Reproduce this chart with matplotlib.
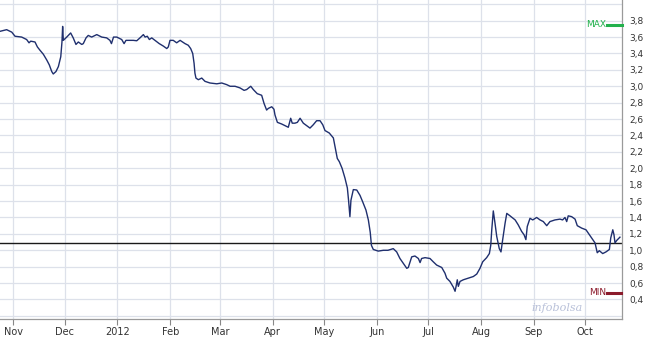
import matplotlib
matplotlib.use("Agg")
import matplotlib.pyplot as plt
import matplotlib.dates as mdates
import matplotlib.transforms as mtransforms
import numpy as np
from datetime import datetime

# days since 2011-11-01, and the share price (EUR)
days = [-7.8, -3.9, -0.9, 1.0, 4.9, 7.8, 9.2, 10.2, 12.7, 14.1, 15.6, 17.6, 19.6, 21.1,
        22.5, 23.4, 25.0, 26.4, 27.8, 28.5, 28.9, 29.3, 31.3, 33.6, 35.1, 36.7, 38.1,
        40.1, 41.0, 42.6, 43.9, 45.9, 48.9, 51.8, 54.7, 56.6, 57.5, 58.7, 60.6, 63.5,
        64.9, 66.0, 68.4, 70.3, 72.3, 74.2, 76.2, 77.2, 78.5, 79.7, 81.1, 83.0, 85.5,
        87.9, 89.9, 90.8, 91.8, 93.7, 95.7, 97.7, 99.2, 100.6, 102.5, 103.9, 105.1,
        105.9, 106.4, 107.0, 108.4, 110.4, 112.3, 115.2, 119.2, 122.1, 125.0, 127.0,
        129.9, 132.8, 135.2, 136.7, 139.1, 140.6, 142.9, 145.5, 146.9, 148.4, 149.4,
        151.4, 152.7, 153.3, 154.7, 157.2, 160.2, 161.1, 162.5, 163.4, 165.0, 166.4,
        168.0, 169.9, 171.9, 173.8, 175.7, 177.7, 179.7, 181.3, 182.6, 185.1, 187.5,
        188.5, 189.8, 191.0, 192.6, 194.3, 195.7, 196.4, 197.2, 197.8, 199.2, 201.2,
        203.1, 204.7, 206.6, 208.0, 209.1, 209.8, 210.9, 213.8, 216.8, 219.5, 222.6,
        224.6, 226.5, 228.5, 230.5, 231.4, 233.4, 235.3, 237.3, 238.3, 239.2, 241.2,
        244.1, 246.0, 248.0, 251.0, 252.9, 253.9, 255.8, 257.8, 258.8, 259.4, 260.1,
        260.7, 261.7, 263.6, 266.6, 269.5, 271.5, 273.4, 275.0, 277.3, 278.9, 279.7,
        280.3, 281.2, 282.2, 283.2, 284.7, 285.7, 286.7, 288.1, 289.1, 291.0, 294.0,
        295.8, 297.8, 299.2, 300.3, 301.1, 302.7, 304.3, 306.6, 308.6, 310.5, 312.5,
        314.4, 317.3, 320.3, 321.8, 323.2, 324.2, 325.1, 327.1, 329.1, 330.4, 333.0,
        335.5, 337.5, 339.5, 340.8, 342.1, 343.3, 345.3, 347.2, 349.2, 350.0, 351.2,
        351.9, 352.5, 353.5, 355.4]
price = [3.67, 3.69, 3.66, 3.61, 3.60, 3.57, 3.53, 3.55, 3.54, 3.48, 3.44, 3.39, 3.32, 3.26,
         3.18, 3.15, 3.18, 3.24, 3.36, 3.54, 3.73, 3.56, 3.60, 3.65, 3.59, 3.51, 3.54,
         3.51, 3.52, 3.59, 3.62, 3.60, 3.63, 3.60, 3.59, 3.56, 3.52, 3.60, 3.60, 3.57,
         3.52, 3.56, 3.56, 3.56, 3.555, 3.59, 3.63, 3.60, 3.61, 3.57, 3.59, 3.56, 3.52,
         3.49, 3.46, 3.48, 3.56, 3.56, 3.53, 3.56, 3.54, 3.52, 3.50, 3.46, 3.40,
         3.28, 3.16, 3.10, 3.08, 3.10, 3.06, 3.04, 3.03, 3.04, 3.02, 3.00,
         3.00, 2.98, 2.95, 2.96, 3.00, 2.96, 2.91, 2.89, 2.79, 2.71, 2.73,
         2.75, 2.72, 2.65, 2.56, 2.54, 2.51, 2.50, 2.61, 2.55, 2.55, 2.56,
         2.61, 2.55, 2.52, 2.49, 2.53, 2.58, 2.58, 2.53, 2.46, 2.43, 2.37,
         2.26, 2.12, 2.08, 2.00, 1.88, 1.76, 1.61, 1.41, 1.61, 1.74, 1.735,
         1.67, 1.59, 1.49, 1.37, 1.22, 1.06, 1.01, 0.99, 1.00, 1.00, 1.02,
         0.98, 0.90, 0.84, 0.78, 0.79, 0.92, 0.93, 0.90, 0.85, 0.90, 0.91,
         0.90, 0.86, 0.82, 0.79, 0.72, 0.66, 0.62, 0.55, 0.50, 0.56, 0.64,
         0.56, 0.62, 0.64, 0.66, 0.68, 0.71, 0.78, 0.86, 0.91, 0.96, 1.06,
         1.25, 1.48, 1.33, 1.17, 1.02, 0.98, 1.13, 1.33, 1.45, 1.42, 1.37,
         1.31, 1.23, 1.19, 1.13, 1.29, 1.39, 1.37, 1.40, 1.37, 1.35, 1.30,
         1.35, 1.37, 1.38, 1.37, 1.40, 1.35, 1.42, 1.41, 1.38, 1.30, 1.27,
         1.25, 1.19, 1.13, 1.09, 0.97, 0.995, 0.96, 0.98, 1.01, 1.15, 1.25,
         1.19, 1.09, 1.12, 1.16]
ref_level = 1.09
month_labels = ["Nov", "Dec", "2012", "Feb", "Mar", "Apr", "May", "Jun", "Jul", "Aug", "Sep", "Oct"]

base = mdates.date2num(datetime(2011, 11, 1))
x = base + np.array(days)
y = np.array(price)

fig = plt.figure(figsize=(6.52, 3.40), dpi=100, facecolor="white")
ax = fig.add_axes([0, 21 / 340, 622 / 652, 319 / 340])

grid_c = "#dde1ea"
for t in np.arange(0.2, 4.01, 0.2):
    ax.axhline(t, color=grid_c, lw=0.9, zorder=0)
month_ticks = [mdates.date2num(datetime(2011 + (10 + i) // 12, (10 + i) % 12 + 1, 1)) for i in range(12)]
for m in month_ticks:
    ax.axvline(m, color=grid_c, lw=0.9, zorder=0)

ax.axhline(ref_level, color="#1a1a1a", lw=1.0, zorder=2)
ax.plot(x, y, color="#1f2f6e", lw=1.0, zorder=3)

ax.set_xlim(base - 7.8, base + 356.6)
ax.set_ylim(0.162, 4.052)

ax.set_xticks(month_ticks)
ax.set_xticklabels(month_labels)
ax.yaxis.tick_right()
yt = np.round(np.arange(0.4, 3.81, 0.2), 1)
ax.set_yticks(yt)
ax.set_yticklabels([("%.1f" % v).replace(".", ",") for v in yt])
ax.tick_params(axis="x", length=4, width=0.8, color="#888888", labelsize=7, labelcolor="#333333", pad=2)
ax.tick_params(axis="y", length=0, labelsize=6.5, labelcolor="#333333", pad=5)

for s in ["top", "left"]:
    ax.spines[s].set_visible(False)
for s in ["right", "bottom"]:
    ax.spines[s].set_color("#9a9a9a")
    ax.spines[s].set_linewidth(0.9)

# max / min markers on the right edge
trans = mtransforms.blended_transform_factory(ax.transAxes, ax.transData)
ymax, ymin = y.max() + 0.02, y.min() - 0.02
ax.plot([0.976, 1.0], [ymax, ymax], color="#22b14c", lw=2.2, transform=trans, clip_on=False, zorder=4)
ax.text(0.974, ymax, "MAX", color="#22b14c", fontsize=6.5, ha="right", va="center", transform=trans)
ax.plot([0.976, 0.998], [ymin, ymin], color="#8b1a2b", lw=2.2, transform=trans, clip_on=False, zorder=4)
ax.text(0.974, ymin, "MIN", color="#8b1a2b", fontsize=6.5, ha="right", va="center", transform=trans)

fig.text(557 / 652, 1 - 308 / 340, "infobolsa", fontsize=8, style="italic", family="DejaVu Serif",
         color="#b9c1d9", ha="center", va="center")

fig.savefig("out.png", dpi=100, facecolor="white")
